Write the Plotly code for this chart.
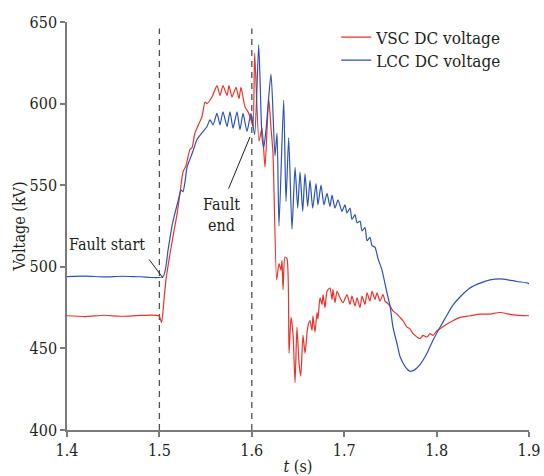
import plotly.graph_objects as go

# ---- data ----
vsc_t = [1.400, 1.420, 1.440, 1.460, 1.480, 1.4996, 1.5023, 1.5050, 1.5071, 1.5115,
         1.5158, 1.5190, 1.5223, 1.5255, 1.5288, 1.5331, 1.5353, 1.5385, 1.5461, 1.5494,
         1.5515, 1.5569, 1.5623, 1.5656, 1.5688, 1.5732, 1.5753, 1.5786, 1.5829, 1.5861,
         1.5883, 1.5926, 1.5959, 1.5991, 1.6013, 1.6031, 1.6078, 1.6110, 1.6143, 1.6183,
         1.6208, 1.6229, 1.6269, 1.6294, 1.6316, 1.6327, 1.6338, 1.6359, 1.6381, 1.6403,
         1.6424, 1.6446, 1.6468, 1.6489, 1.6511, 1.6530, 1.6554, 1.6576, 1.6605, 1.6630,
         1.6652, 1.6662, 1.6684, 1.6706, 1.6716, 1.6738, 1.6760, 1.6771, 1.6792, 1.6814,
         1.6846, 1.6868, 1.6879, 1.6900, 1.6922, 1.6955, 1.6987, 1.7030, 1.7063, 1.7084,
         1.7117, 1.7139, 1.7171, 1.7193, 1.7225, 1.7247, 1.7279, 1.7301, 1.7333, 1.7355,
         1.7387, 1.7420, 1.7442, 1.7463, 1.7496, 1.7528, 1.7571, 1.7604, 1.7636, 1.7680,
         1.7712, 1.7745, 1.7766, 1.7788, 1.7820, 1.7853, 1.7896, 1.7929, 1.7961, 1.8004,
         1.8037, 1.8113, 1.8177, 1.8253, 1.8361, 1.8470, 1.8578, 1.8686, 1.8827, 1.8990,
         1.900]
vsc_v = [470.0, 469.5, 470.3, 469.7, 470.2, 470.0, 466.0, 480.0, 492.0, 508.0,
         522.0, 532.0, 545.0, 558.0, 562.0, 572.0, 573.0, 582.0, 592.0, 601.0,
         600.0, 604.0, 611.0, 605.0, 611.0, 605.0, 611.0, 604.0, 610.0, 603.0,
         610.0, 598.0, 595.0, 590.0, 586.0, 631.0, 577.0, 585.0, 561.0, 603.0,
         585.0, 570.0, 492.0, 502.0, 498.0, 504.0, 486.0, 506.0, 505.0, 447.0,
         469.0, 459.0, 429.0, 463.0, 441.0, 433.0, 458.0, 447.0, 463.0, 467.0,
         461.0, 470.0, 460.0, 472.0, 468.0, 481.0, 477.0, 483.0, 475.0, 485.0,
         487.0, 480.0, 486.0, 478.0, 485.0, 481.0, 478.0, 483.0, 477.0, 482.0,
         476.0, 481.0, 475.0, 482.0, 477.0, 484.0, 479.0, 485.0, 480.0, 484.0,
         479.0, 483.0, 479.0, 478.0, 476.0, 473.0, 471.0, 469.0, 467.0, 463.0,
         462.0, 459.0, 458.0, 457.0, 456.0, 458.0, 457.0, 459.0, 458.0, 461.0,
         462.0, 465.0, 467.0, 469.0, 470.0, 471.0, 471.0, 472.0, 470.5, 470.0,
         470.0]

lcc_t = [1.400, 1.420, 1.440, 1.460, 1.480, 1.5039, 1.5093, 1.5136, 1.5169, 1.5201,
         1.5234, 1.5255, 1.5277, 1.5299, 1.5331, 1.5364, 1.5407, 1.5461, 1.5515, 1.5548,
         1.5580, 1.5623, 1.5656, 1.5688, 1.5732, 1.5764, 1.5797, 1.5840, 1.5872, 1.5905,
         1.5948, 1.5991, 1.6031, 1.6075, 1.6110, 1.6129, 1.6154, 1.6208, 1.6251, 1.6273,
         1.6294, 1.6345, 1.6370, 1.6399, 1.6435, 1.6468, 1.6497, 1.6522, 1.6551, 1.6576,
         1.6605, 1.6630, 1.6659, 1.6695, 1.6716, 1.6749, 1.6781, 1.6814, 1.6846, 1.6868,
         1.6900, 1.6933, 1.6976, 1.7008, 1.7030, 1.7063, 1.7084, 1.7117, 1.7139, 1.7171,
         1.7193, 1.7225, 1.7247, 1.7279, 1.7301, 1.7333, 1.7366, 1.7409, 1.7463, 1.7496,
         1.7528, 1.7571, 1.7604, 1.7658, 1.7712, 1.7766, 1.7820, 1.7896, 1.7961, 1.8037,
         1.8113, 1.8177, 1.8253, 1.8361, 1.8470, 1.8578, 1.8719, 1.8870, 1.8990, 1.900]
lcc_v = [494.0, 494.3, 493.8, 494.2, 493.9, 494.0, 510.0, 525.0, 533.0, 540.0,
         547.0, 546.0, 552.0, 561.0, 566.0, 571.0, 578.0, 582.0, 586.0, 590.0,
         587.0, 594.0, 587.0, 595.0, 586.0, 595.0, 585.0, 595.0, 584.0, 594.0,
         583.0, 594.0, 581.0, 636.0, 580.0, 573.0, 584.0, 618.0, 568.0, 582.0,
         525.0, 602.0, 540.0, 579.0, 523.0, 561.0, 536.0, 558.0, 534.0, 557.0,
         537.0, 553.0, 536.0, 551.0, 538.0, 550.0, 538.0, 545.0, 537.0, 544.0,
         536.0, 541.0, 534.0, 538.0, 533.0, 536.0, 529.0, 532.0, 527.0, 528.0,
         522.0, 524.0, 516.0, 518.0, 513.0, 512.0, 505.0, 498.0, 484.0, 476.0,
         463.0, 453.0, 445.0, 439.0, 436.0, 437.0, 440.0, 447.0, 455.0, 463.0,
         470.5, 476.5, 481.5, 487.0, 490.0, 492.0, 492.5, 491.0, 490.0, 489.5]

fault_times = [1.5, 1.6]
x_ticks = [1.4, 1.5, 1.6, 1.7, 1.8, 1.9]
y_ticks = [400, 450, 500, 550, 600, 650]

FONT = "DejaVu Serif Condensed, DejaVu Serif"
FS = 16
TXT = "#231f20"
AX = "#7a7a7a"

fig = go.Figure()

for ft in fault_times:
    fig.add_trace(go.Scatter(x=[ft, ft], y=[400, 646], mode="lines",
                             line=dict(color="#505050", width=1.3, dash="6px,5px"),
                             showlegend=False, hoverinfo="skip"))

fig.add_trace(go.Scatter(x=vsc_t, y=vsc_v, mode="lines", name="VSC DC voltage", legend="legend",
                         line=dict(color="#e8332b", width=1.2, shape="spline", smoothing=0.6)))
fig.add_trace(go.Scatter(x=lcc_t, y=lcc_v, mode="lines", name="LCC DC voltage", legend="legend2",
                         line=dict(color="#2c52b4", width=1.2, shape="spline", smoothing=0.6)))

annotations = [
    dict(x=1.4433, y=513.4, text="Fault start", showarrow=False,
         font=dict(family=FONT, size=FS, color=TXT)),
    dict(x=1.5039, y=493.1, ax=1.4877, ay=505.4, axref="x", ayref="y", text="",
         showarrow=True, arrowhead=0, arrowwidth=1, arrowcolor="#231f20"),
    dict(x=1.5677, y=531.7, text="Fault<br>end", showarrow=False,
         font=dict(family=FONT, size=FS, color=TXT)),
    dict(x=1.598, y=579.5, ax=1.5742, ay=547.0, axref="x", ayref="y", text="",
         showarrow=True, arrowhead=0, arrowwidth=1, arrowcolor="#231f20"),
]

leg = dict(xanchor="left", yanchor="top", bgcolor="rgba(0,0,0,0)",
           font=dict(family=FONT, size=17, color=TXT), itemwidth=30)

fig.update_layout(
    width=544, height=476,
    margin=dict(l=67, r=15, t=22, b=46),
    paper_bgcolor="white", plot_bgcolor="white",
    font=dict(family=FONT, size=FS, color=TXT),
    showlegend=True,
    legend=dict(leg, x=0.5827, y=1.006),
    legend2=dict(leg, x=0.5827, y=0.9495),
    annotations=annotations,
    xaxis=dict(range=[1.4, 1.9], tickvals=x_ticks, ticktext=[f"{v:.1f}" for v in x_ticks],
               automargin=False,
               showgrid=False, zeroline=False, showline=True, linecolor=AX, linewidth=1.5,
               ticks="outside", ticklen=5, tickcolor=AX, tickwidth=1.5,
               tickfont=dict(family=FONT, size=FS, color=TXT),
               title=dict(text="<i>t</i> (s)", font=dict(family=FONT, size=FS, color=TXT), standoff=2)),
    yaxis=dict(range=[400, 650], tickvals=y_ticks, ticktext=[str(v) for v in y_ticks],
               automargin=False,
               showgrid=False, zeroline=False, showline=True, linecolor=AX, linewidth=1.5,
               ticks="outside", ticklen=5, tickcolor=AX, tickwidth=1.5,
               tickfont=dict(family=FONT, size=FS, color=TXT),
               title=dict(text="Voltage (kV)", font=dict(family=FONT, size=FS, color=TXT), standoff=0)),
)

fig.write_html("out.html")
